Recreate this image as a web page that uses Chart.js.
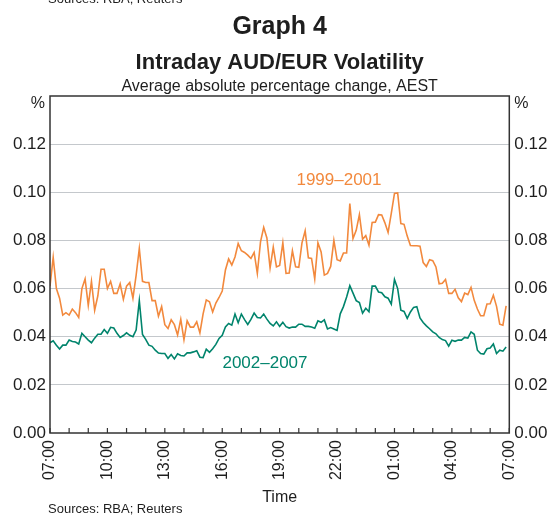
<!DOCTYPE html>
<html>
<head>
<meta charset="utf-8">
<script src="https://cdn.jsdelivr.net/npm/chart.js@4.4.1/dist/chart.umd.min.js"></script>
<style>
  html, body { margin: 0; padding: 0; background: #ffffff; }
  #wrap { width: 550px; height: 516px; }
</style>
</head>
<body>
<div id="wrap"><canvas id="graph4" width="550" height="516"></canvas></div>
<script>
// tick labels on the time axis (every 3 hours, AEST)
const timeLabels = ["07:00", "10:00", "13:00", "16:00", "19:00", "22:00", "01:00", "04:00", "07:00"];
const stepMinutes = 10; // one observation every 10 minutes from 07:00

// average absolute percentage change, 1999-2001
const vol9901 = [
  0.061, 0.073, 0.060, 0.056, 0.049, 0.050, 0.049, 0.0515, 0.050, 0.048,
  0.060, 0.064, 0.053, 0.063, 0.051, 0.057, 0.068, 0.068, 0.060, 0.063,
  0.058, 0.058, 0.062, 0.0555, 0.061, 0.0625, 0.056, 0.0655, 0.0767, 0.063,
  0.0625, 0.0625, 0.055, 0.055, 0.0485, 0.0525, 0.045, 0.0434, 0.047, 0.045,
  0.0407, 0.0472, 0.0387, 0.0466, 0.044, 0.044, 0.0462, 0.0416, 0.0495, 0.0553,
  0.0545, 0.0503, 0.054, 0.0563, 0.059, 0.0677, 0.0723, 0.0698, 0.0731, 0.0787,
  0.0757, 0.075, 0.0739, 0.0725, 0.075, 0.0663, 0.0794, 0.0854, 0.081, 0.0685,
  0.0772, 0.069, 0.0696, 0.079, 0.0663, 0.0665, 0.0757, 0.069, 0.0688, 0.079,
  0.084, 0.0728, 0.0725, 0.064, 0.079, 0.0752, 0.0656, 0.0663, 0.0692, 0.080,
  0.072, 0.0715, 0.0748, 0.0748, 0.0953, 0.0808, 0.0842, 0.0907, 0.0805, 0.082,
  0.078, 0.0875, 0.0876, 0.0907, 0.0906, 0.0873, 0.0833, 0.0912, 0.0995, 0.0997,
  0.087, 0.0867, 0.0818, 0.0779, 0.0778, 0.0778, 0.0776, 0.0708, 0.0692, 0.072,
  0.0716, 0.069, 0.062, 0.0622, 0.0638, 0.058, 0.058, 0.0597, 0.0562, 0.0546,
  0.0581, 0.0575, 0.0605, 0.0551, 0.0515, 0.0487, 0.0487, 0.0536, 0.0537, 0.0572,
  0.0526, 0.0452, 0.0448, 0.0528
];

// average absolute percentage change, 2002-2007
const vol0207 = [
  0.0375, 0.0383, 0.0365, 0.0349, 0.0365, 0.0365, 0.0386, 0.038, 0.0378, 0.037,
  0.0414, 0.040, 0.0386, 0.0375, 0.0394, 0.041, 0.041, 0.043, 0.0414, 0.0439,
  0.0436, 0.0414, 0.0397, 0.0405, 0.0416, 0.0406, 0.040, 0.0428, 0.055, 0.0409,
  0.0389, 0.0365, 0.036, 0.0344, 0.0332, 0.033, 0.033, 0.031, 0.0326, 0.0308,
  0.0329, 0.0322, 0.032, 0.0333, 0.0333, 0.0337, 0.0342, 0.0315, 0.0313, 0.0348,
  0.0335, 0.035, 0.0368, 0.0393, 0.0406, 0.0441, 0.0455, 0.0448, 0.0494, 0.0458,
  0.0494, 0.0471, 0.0451, 0.0472, 0.0498, 0.048, 0.0478, 0.0494, 0.0473, 0.0455,
  0.0445, 0.0462, 0.0443, 0.046, 0.0442, 0.0436, 0.044, 0.044, 0.0452, 0.0452,
  0.0443, 0.0443, 0.044, 0.0435, 0.0466, 0.046, 0.047, 0.0432, 0.0438, 0.0432,
  0.0426, 0.0495, 0.0525, 0.0565, 0.0612, 0.0581, 0.055, 0.0542, 0.0498, 0.0518,
  0.0504, 0.061, 0.061, 0.0586, 0.0583, 0.0566, 0.056, 0.0535, 0.0638, 0.060,
  0.051, 0.0505, 0.0476, 0.0503, 0.0522, 0.0525, 0.0478, 0.0459, 0.0445, 0.0433,
  0.042, 0.0412, 0.0397, 0.0388, 0.0384, 0.0361, 0.0385, 0.0381, 0.0386, 0.0386,
  0.0397, 0.0394, 0.042, 0.041, 0.0344, 0.033, 0.0328, 0.035, 0.0353, 0.037,
  0.033, 0.0344, 0.034, 0.0357
];

const ORANGE = "#f2893d";
const GREEN = "#00846c";
const INK = "#1e1e1e";
const FONT = '"Liberation Sans", Arial, Helvetica, sans-serif';

// where the series names sit, in data units (minutes from 07:00, % change)
const label9901 = { text: "1999\u20132001", x: 906, y: 0.105 };
const label0207 = { text: "2002\u20132007", x: 674, y: 0.029 };

function toPoints(arr) {
  return arr.map(function (v, i) { return { x: i * stepMinutes, y: v }; });
}

function yTickLabel(v) {
  if (v > 0.125) return "";
  return v.toFixed(2);
}

var decor = {
  id: "decor",
  beforeDraw: function (chart) {
    var ctx = chart.ctx;
    ctx.save();
    ctx.fillStyle = "#ffffff";
    ctx.fillRect(0, 0, chart.width, chart.height);
    ctx.restore();
  },
  afterDraw: function (chart) {
    var ctx = chart.ctx, a = chart.chartArea, sx = chart.scales.x, sy = chart.scales.y;
    var cx = (a.left + a.right) / 2;
    ctx.save();

    // frame round the plot
    ctx.strokeStyle = "#333333";
    ctx.lineWidth = 1.5;
    ctx.strokeRect(a.left, a.top, a.right - a.left, a.bottom - a.top);

    // hourly tick marks pointing into the plot
    ctx.lineWidth = 1.2;
    sx.ticks.forEach(function (t) {
      var px = sx.getPixelForValue(t.value);
      ctx.beginPath();
      ctx.moveTo(px, a.bottom);
      ctx.lineTo(px, a.bottom - 5);
      ctx.stroke();
    });

    ctx.fillStyle = INK;
    ctx.textBaseline = "alphabetic";

    // remains of the previous graph's source line
    ctx.textAlign = "left";
    ctx.font = "13px " + FONT;
    ctx.fillText("Sources: RBA; Reuters", 48, 3);

    // titles
    ctx.textAlign = "center";
    ctx.font = "bold 25px " + FONT;
    ctx.fillText("Graph 4", cx, 34);
    ctx.font = "bold 22px " + FONT;
    ctx.fillText("Intraday AUD/EUR Volatility", cx, 69);
    ctx.font = "16px " + FONT;
    ctx.fillText("Average absolute percentage change, AEST", cx, 91);

    // unit labels
    ctx.font = "16px " + FONT;
    ctx.textAlign = "right";
    ctx.fillText("%", a.left - 5, 108);
    ctx.textAlign = "left";
    ctx.fillText("%", a.right + 5, 108);

    // axis title and source
    ctx.textAlign = "center";
    ctx.fillText("Time", cx, 502);
    ctx.textAlign = "left";
    ctx.font = "13px " + FONT;
    ctx.fillText("Sources: RBA; Reuters", 48, 513);

    // series names
    ctx.font = "17px " + FONT;
    ctx.textAlign = "center";
    ctx.textBaseline = "middle";
    ctx.fillStyle = ORANGE;
    ctx.fillText(label9901.text, sx.getPixelForValue(label9901.x), sy.getPixelForValue(label9901.y));
    ctx.fillStyle = GREEN;
    ctx.fillText(label0207.text, sx.getPixelForValue(label0207.x), sy.getPixelForValue(label0207.y));

    ctx.restore();
  }
};

document.addEventListener("DOMContentLoaded", function () {
  var ctx = document.getElementById("graph4").getContext("2d");
  new Chart(ctx, {
    type: "line",
    data: {
      datasets: [
        {
          label: "1999\u20132001",
          data: toPoints(vol9901),
          borderColor: ORANGE,
          borderWidth: 1.6,
          pointRadius: 0,
          fill: false,
          tension: 0
        },
        {
          label: "2002\u20132007",
          data: toPoints(vol0207),
          borderColor: GREEN,
          borderWidth: 1.6,
          pointRadius: 0,
          fill: false,
          tension: 0
        }
      ]
    },
    options: {
      responsive: false,
      animation: false,
      devicePixelRatio: 1,
      layout: { padding: { top: 96, bottom: 0, left: 0, right: 0 } },
      plugins: { legend: { display: false }, title: { display: false }, tooltip: { enabled: false } },
      scales: {
        x: {
          type: "linear",
          min: 0,
          max: 1440,
          grid: { display: false, drawTicks: false },
          border: { display: false },
          ticks: {
            stepSize: 60,
            autoSkip: false,
            maxRotation: 90,
            minRotation: 90,
            padding: 7,
            color: INK,
            font: { family: FONT, size: 16 },
            callback: function (v) {
              return v % 180 === 0 ? timeLabels[v / 180] : "";
            }
          },
          afterFit: function (s) { s.height = 83; }
        },
        y: {
          position: "left",
          min: 0,
          max: 0.14,
          grid: {
            drawTicks: false,
            color: function (c) {
              var v = c.tick.value;
              return v < 0.001 || v > 0.135 ? "rgba(0,0,0,0)" : "#c4c8cc";
            },
            lineWidth: 1
          },
          border: { display: false },
          ticks: {
            stepSize: 0.02,
            padding: 4,
            color: INK,
            font: { family: FONT, size: 17 },
            callback: yTickLabel
          },
          afterFit: function (s) { s.width = 50; }
        },
        y2: {
          position: "right",
          min: 0,
          max: 0.14,
          grid: { display: false, drawTicks: false },
          border: { display: false },
          ticks: {
            stepSize: 0.02,
            padding: 5,
            color: INK,
            font: { family: FONT, size: 17 },
            callback: yTickLabel
          },
          afterFit: function (s) { s.width = 40.7; }
        }
      }
    },
    plugins: [decor]
  });
});
</script>
</body>
</html>
